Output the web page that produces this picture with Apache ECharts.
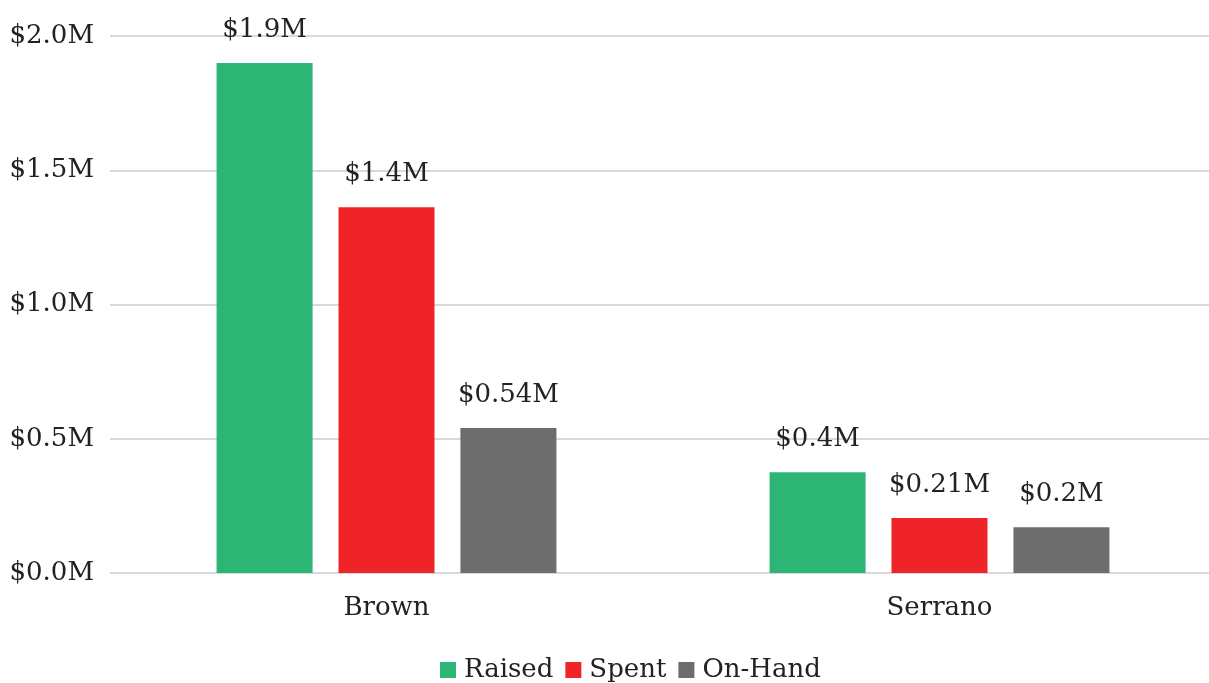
<!DOCTYPE html>
<html>
<head>
<meta charset="utf-8">
<script src="https://cdn.jsdelivr.net/npm/echarts@6/dist/echarts.min.js"></script>
<style>html,body{margin:0;padding:0;background:#fff;overflow:hidden}#c{width:1216px;height:683px}</style>
</head>
<body>
<div id="c"></div>
<script>
const categories = ['Brown', 'Serrano'];
const seriesNames = ['Raised', 'Spent', 'On-Hand'];
const raised = [1.899, 0.375];
const spent = [1.362, 0.205];
const onHand = [0.540, 0.170];
const raisedLabels = ['$1.9M', '$0.4M'];
const spentLabels = ['$1.4M', '$0.21M'];
const onHandLabels = ['$0.54M', '$0.2M'];
const yTicks = [0, 0.5, 1.0, 1.5, 2.0];

const FONT = '"DejaVu Serif", serif';
const colors = ['#2cb574', '#ee2428', '#6d6d6d'];
const values = [raised, spent, onHand];
const labels = [raisedLabels, spentLabels, onHandLabels];

const chart = echarts.init(document.getElementById('c'), null, {renderer: 'canvas'});
chart.setOption({
  animation: false,
  textStyle: {fontFamily: FONT},
  grid: {left: 110, top: 36, right: 0, height: 537, containLabel: false},
  legend: {
    data: seriesNames,
    top: 657,
    left: 440,
    padding: 0,
    itemWidth: 16,
    itemHeight: 16,
    itemGap: 12,
    icon: 'rect',
    textStyle: {fontFamily: FONT, fontSize: 26, color: '#222', padding: [0, 0, 0, 3]}
  },
  xAxis: {
    type: 'category',
    data: categories,
    axisLine: {show: false},
    axisTick: {show: false},
    axisLabel: {fontFamily: FONT, fontSize: 26, color: '#222', margin: 22}
  },
  yAxis: {
    type: 'value',
    min: 0,
    max: 2,
    interval: 0.5,
    axisLine: {show: false},
    axisTick: {show: false},
    splitLine: {lineStyle: {color: '#d9d9d9', width: 2}},
    axisLabel: {
      fontFamily: FONT, fontSize: 26, color: '#222', margin: 16,
      formatter: v => '$' + v.toFixed(1) + 'M'
    }
  },
  series: seriesNames.map((name, i) => ({
    name: name,
    type: 'bar',
    data: values[i],
    barWidth: 96,
    barGap: '27%',
    itemStyle: {color: colors[i]},
    label: {
      show: true,
      position: 'top',
      distance: 20,
      fontFamily: FONT,
      fontSize: 26,
      color: '#222',
      formatter: p => labels[i][p.dataIndex]
    }
  }))
});
</script>
</body>
</html>
